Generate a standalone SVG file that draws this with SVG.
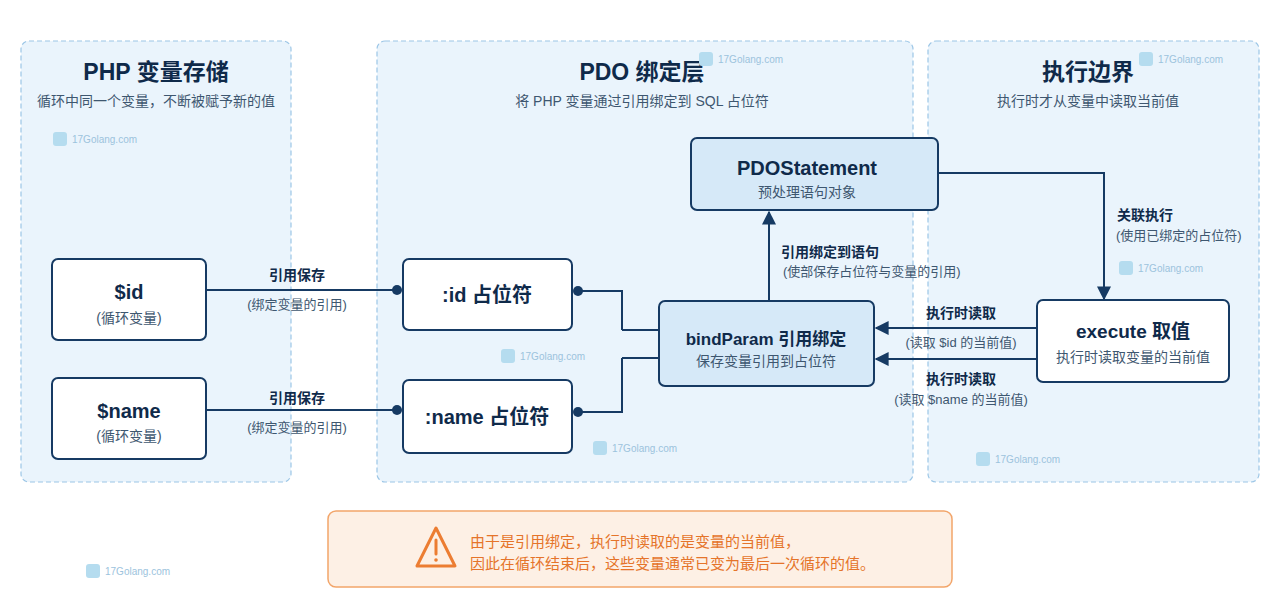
<svg xmlns="http://www.w3.org/2000/svg" width="1280" height="613" viewBox="0 0 1280 613">
<style>
text{font-family:"Liberation Sans","Noto Sans CJK SC",sans-serif;}
.panel{fill:#eaf4fc;stroke:#9cc6e6;stroke-width:1.2;stroke-dasharray:5 3;}
.title{font-size:23px;font-weight:bold;fill:#0f2a4a;text-anchor:middle;}
.sub{font-size:14px;fill:#3e5770;text-anchor:middle;}
.box{fill:#ffffff;stroke:#163a63;stroke-width:2;}
.boxb{fill:#d6e9f8;stroke:#163a63;stroke-width:2;}
.nt{font-size:20px;font-weight:bold;fill:#0f2a4a;text-anchor:middle;}
.ns{font-size:14px;fill:#3e5770;text-anchor:middle;}
.ln{fill:none;stroke:#163a63;stroke-width:2;}
.lb{font-size:14px;font-weight:bold;fill:#0f2a4a;}
.ls{font-size:13px;fill:#3e5770;}
.c{text-anchor:middle;}
.wm{font-size:10px;fill:#9cc3dd;}
.wi{fill:#b5dcef;}
</style>
<defs>
<marker id="ar" viewBox="0 0 10 10" refX="9" refY="5" markerWidth="7" markerHeight="7" orient="auto-start-reverse"><path d="M0,0L10,5L0,10z" fill="#163a63"/></marker>
<marker id="dt" viewBox="0 0 10 10" refX="5" refY="5" markerWidth="5" markerHeight="5"><circle cx="5" cy="5" r="5" fill="#163a63"/></marker>
</defs>
<rect width="1280" height="613" fill="#ffffff"/>
<g id="panel-php"><rect class="panel" x="21" y="41" width="270" height="441" rx="8"/>
<text class="title" x="156" y="80">PHP 变量存储</text><text class="sub" x="156" y="106">循环中同一个变量，不断被赋予新的值</text></g>
<g id="panel-pdo"><rect class="panel" x="377" y="41" width="536" height="441" rx="8"/>
<text class="title" x="642" y="80">PDO 绑定层</text><text class="sub" x="642" y="106">将 PHP 变量通过引用绑定到 SQL 占位符</text></g>
<g id="panel-exec"><rect class="panel" x="928" y="41" width="331" height="441" rx="8"/>
<text class="title" x="1088" y="80">执行边界</text><text class="sub" x="1088" y="106">执行时才从变量中读取当前值</text></g>
<g id="watermarks">
<rect class="wi" x="53" y="132" width="14" height="14" rx="3"/><text class="wm" x="72" y="143">17Golang.com</text>
<rect class="wi" x="699" y="52" width="14" height="14" rx="3"/><text class="wm" x="718" y="63">17Golang.com</text>
<rect class="wi" x="1139" y="52" width="14" height="14" rx="3"/><text class="wm" x="1158" y="63">17Golang.com</text>
<rect class="wi" x="1119" y="261" width="14" height="14" rx="3"/><text class="wm" x="1138" y="272">17Golang.com</text>
<rect class="wi" x="501" y="349" width="14" height="14" rx="3"/><text class="wm" x="520" y="360">17Golang.com</text>
<rect class="wi" x="593" y="441" width="14" height="14" rx="3"/><text class="wm" x="612" y="452">17Golang.com</text>
<rect class="wi" x="976" y="452" width="14" height="14" rx="3"/><text class="wm" x="995" y="463">17Golang.com</text>
<rect class="wi" x="86" y="564" width="14" height="14" rx="3"/><text class="wm" x="105" y="575">17Golang.com</text>
</g>
<g id="connectors">
<path class="ln" d="M206,290H397" marker-end="url(#dt)"/>
<path class="ln" d="M206,410H397" marker-end="url(#dt)"/>
<path class="ln" d="M622,330H659M622,330V291H578" marker-end="url(#dt)"/>
<path class="ln" d="M622,358H659M622,358V412H578" marker-end="url(#dt)"/>
<path class="ln" d="M769,301V212" marker-end="url(#ar)"/>
<path class="ln" d="M938,173H1104V299" marker-end="url(#ar)"/>
<path class="ln" d="M1037,328H876" marker-end="url(#ar)"/>
<path class="ln" d="M1037,359H876" marker-end="url(#ar)"/>
<text class="lb c" x="297" y="280">引用保存</text><text class="ls c" x="297" y="309">(绑定变量的引用)</text>
<text class="lb c" x="297" y="403">引用保存</text><text class="ls c" x="297" y="432">(绑定变量的引用)</text>
<text class="lb" x="781" y="257">引用绑定到语句</text><text class="ls" x="783" y="276">(使部保存占位符与变量的引用)</text>
<text class="lb" x="1117" y="220">关联执行</text><text class="ls" x="1116" y="240">(使用已绑定的占位符)</text>
<text class="lb c" x="961" y="318">执行时读取</text><text class="ls c" x="961" y="347">(读取 $id 的当前值)</text>
<text class="lb c" x="961" y="384">执行时读取</text><text class="ls c" x="961" y="404">(读取 $name 的当前值)</text>
</g>
<g id="n-id"><rect class="box" x="52" y="259" width="154" height="81" rx="6"/><text class="nt" x="129" y="299">$id</text><text class="ns" x="129" y="323">(循环变量)</text></g>
<g id="n-name"><rect class="box" x="52" y="378" width="154" height="81" rx="6"/><text class="nt" x="129" y="418">$name</text><text class="ns" x="129" y="441">(循环变量)</text></g>
<g id="n-pid"><rect class="box" x="403" y="259" width="169" height="71" rx="6"/><text class="nt" x="487" y="302">:id 占位符</text></g>
<g id="n-pname"><rect class="box" x="403" y="380" width="169" height="73" rx="6"/><text class="nt" x="487" y="424">:name 占位符</text></g>
<g id="n-bind"><rect class="boxb" x="659" y="301" width="215" height="85" rx="6"/><text class="nt" x="766" y="345" style="font-size:17px">bindParam 引用绑定</text><text class="ns" x="766" y="366">保存变量引用到占位符</text></g>
<g id="n-stmt"><rect class="boxb" x="691" y="138" width="247" height="72" rx="6"/><text class="nt" x="807" y="175">PDOStatement</text><text class="ns" x="807" y="197">预处理语句对象</text></g>
<g id="n-exec"><rect class="box" x="1037" y="300" width="192" height="82" rx="6"/><text class="nt" x="1133" y="338" style="font-size:19px">execute 取值</text><text class="ns" x="1133" y="362">执行时读取变量的当前值</text></g>
<g id="warning"><rect x="328" y="511" width="624" height="76" rx="8" fill="#fdf0e5" stroke="#f2a56a" stroke-width="1.5"/>
<path d="M436,528L455,566H417Z" fill="none" stroke="#ec7d32" stroke-width="3" stroke-linejoin="round"/>
<line x1="436" y1="540" x2="436" y2="554" stroke="#ec7d32" stroke-width="3" stroke-linecap="round"/><circle cx="436" cy="560" r="1.8" fill="#ec7d32"/>
<text x="470" y="547" style="font-size:15px;fill:#e5742a">由于是引用绑定，执行时读取的是变量的当前值，</text>
<text x="470" y="569" style="font-size:15px;fill:#e5742a">因此在循环结束后，这些变量通常已变为最后一次循环的值。</text></g>
</svg>
